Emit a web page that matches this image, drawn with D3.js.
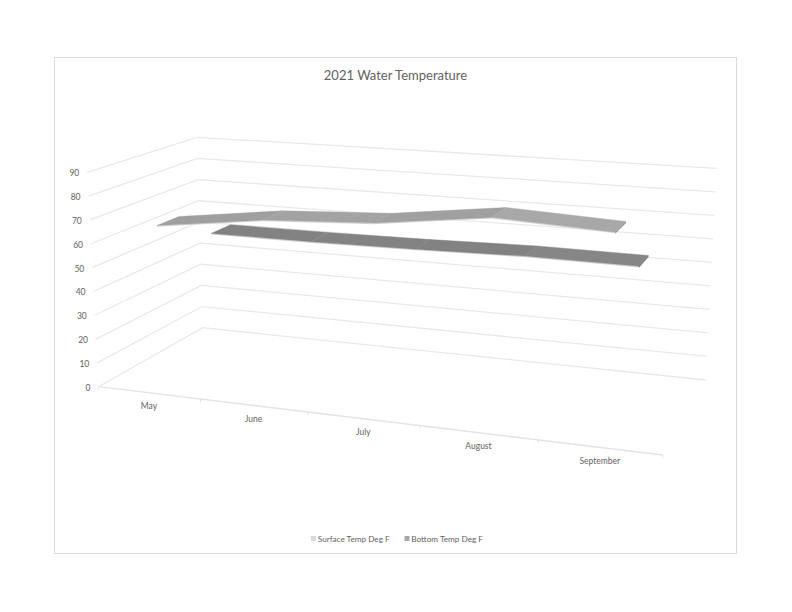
<!DOCTYPE html>
<html><head><meta charset="utf-8">
<script src="https://cdn.jsdelivr.net/npm/d3@7"></script>
<style>html,body{margin:0;background:#fff}svg{display:block}text{font-family:Lato,"Open Sans",sans-serif;fill:#636363}</style>
</head><body><div id="chart"></div>
<script>
const categories = ["May","June","July","August","September"];
const seriesNames = ["Surface Temp Deg F","Bottom Temp Deg F"];
const surfaceValues = [67,73,75.5,81.5,79.5];
const bottomValues = [53.6,53.6,54.1,55,54.7];
const valueTicks = [0,10,20,30,40,50,60,70,80,90];

const svg = d3.select("#chart").append("svg").attr("width",792).attr("height",612);
svg.append("rect").attr("x",54.5).attr("y",57.5).attr("width",682).attr("height",496)
   .attr("fill","#fff").attr("stroke","#dcdcdc").attr("stroke-width",1);

// Perspective box: corner screen positions [t][d][level]
const C = {
  "000":[98.5,386.7],"001":[87.3,172.3],
  "010":[202.7,327.7],"011":[196.7,137.3],
  "100":[662.7,455],"101":[674.5,217],
  "110":[706,380],"111":[716.7,168.3]
};
const zT = d3.scaleLinear().domain([0,1]).range([0,-0.116]);
const zD = d3.scaleLinear().domain([0,1]).range([0,0.127]);
const yFrac = d3.scaleLinear().domain([0,90]).range([0,1]);
const tBand = d3.scaleBand().domain(categories).range([0,1]);
const dBand = d3.scaleBand().domain(seriesNames).range([0,1]);
function project(t,d,v){
  const l = yFrac(v); let X=0,Y=0,W=0;
  for(const i of [0,1]) for(const j of [0,1]) for(const k of [0,1]){
    const b=(i?t:1-t)*(j?d:1-d)*(k?l:1-l);
    const z=1+zT(i)+zD(j);
    const c=C[""+i+j+k];
    X+=b*z*c[0];Y+=b*z*c[1];W+=b*z;
  }
  return [X/W,Y/W];
}
const line = d3.line();

// gridlines on side wall and back wall
valueTicks.forEach(v=>{
  svg.append("path").attr("d",line([project(0,0,v),project(0,1,v),project(1,1,v)]))
    .attr("fill","none").attr("stroke","#e9e9e9").attr("stroke-width",1.3);
  const p=project(0,0,v);
  svg.append("text").attr("x",p[0]-8).attr("y",p[1]+4).attr("text-anchor","end")
    .attr("font-size",8.5).text(v);
});
// floor front edge + ticks
svg.append("path").attr("d",line([project(0,0,0),project(1,0,0)]))
  .attr("fill","none").attr("stroke","#e4e4e4").attr("stroke-width",1.3);
[0,1,2,3,4,5].forEach(i=>{
  const p=project(i/5,0,0);
  svg.append("path").attr("d",line([p,[p[0],p[1]+3]])).attr("stroke","#dedede").attr("stroke-width",0.8).attr("fill","none");
});
categories.forEach(c=>{
  const p=project(tBand(c)+tBand.bandwidth()/2,0,0);
  svg.append("text").attr("x",p[0]).attr("y",p[1]+16.3).attr("text-anchor","middle").attr("font-size",8.5).text(c);
});

// ribbons
function ribbon(values,d0,d1,shades,capColor){
  const t=i=>tBand(categories[i])+tBand.bandwidth()/2;
  for(let i=0;i<values.length-1;i++){
    const a=project(t(i),d0,values[i]),b=project(t(i+1),d0,values[i+1]),
          c=project(t(i+1),d1,values[i+1]),e=project(t(i),d1,values[i]);
    svg.append("path").attr("d",line([a,b,[b[0],b[1]+1.2],[a[0],a[1]+1.2]])+"Z").attr("fill","#d8d8d8");
    svg.append("path").attr("d",line([a,b,c,e])+"Z").attr("fill",shades[i]).attr("stroke",shades[i]).attr("stroke-width",0.4);
  }
  const n=values.length-1, a=project(t(n),d0,values[n]), c=project(t(n),d1,values[n]);
  svg.append("path").attr("d",line([a,c,[c[0],c[1]+1.5],[a[0],a[1]+1.5]])+"Z").attr("fill",capColor);
}
const dBack = dBand(seriesNames[1]);
ribbon(bottomValues,dBack+0.135,dBack+0.335,["#828282","#838383","#828282","#868686"],"#707070");
ribbon(surfaceValues,0.13,0.33,["#9f9f9f","#a3a3a3","#a0a0a0","#a8a8a8"],"#909090");

// title
svg.append("text").attr("x",395.5).attr("y",79.5).attr("text-anchor","middle").attr("font-size",13).text("2021 Water Temperature");

// legend
const legendColor = d3.scaleOrdinal().domain(seriesNames).range(["#d9d9d9","#a6a6a6"]);
const legendX = d3.scaleOrdinal().domain(seriesNames).range([311,404.5]);
seriesNames.forEach(s=>{
  svg.append("rect").attr("x",legendX(s)).attr("y",536).attr("width",5).attr("height",5).attr("fill",legendColor(s));
  svg.append("text").attr("x",legendX(s)+6.8).attr("y",541.5).attr("font-size",8.2).text(s);
});
</script></body></html>
